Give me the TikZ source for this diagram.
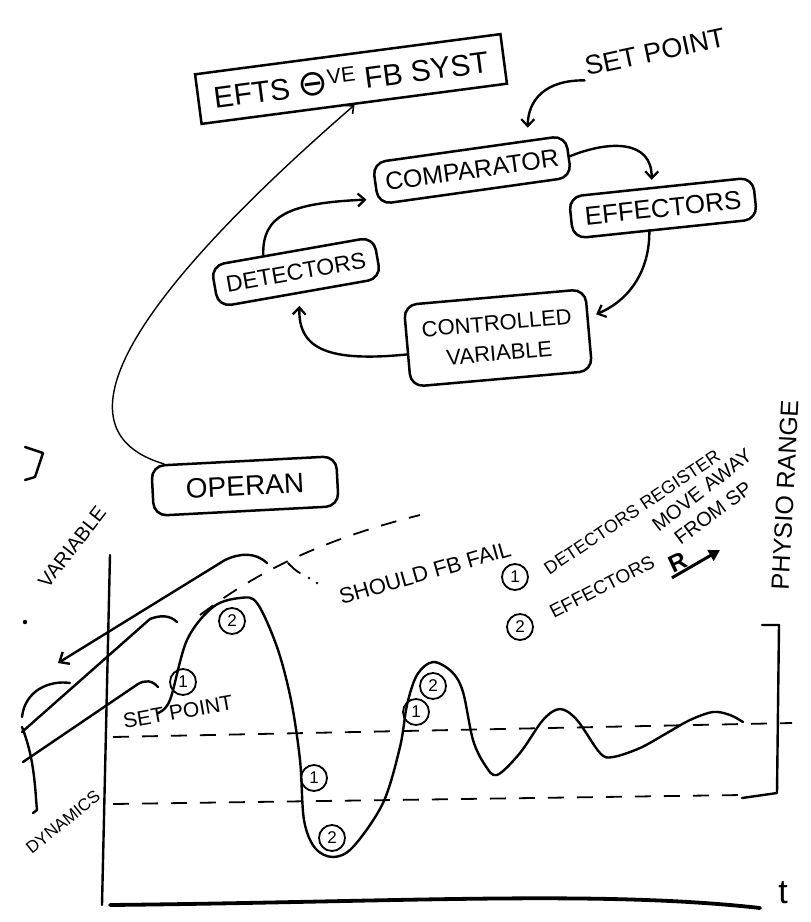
\documentclass[tikz,border=0pt]{standalone}
\usepackage{fontspec}
\setmainfont{Liberation Sans}
\newfontfamily\djv{DejaVu Sans}
\usetikzlibrary{arrows.meta,calc}
\begin{document}
\begin{tikzpicture}[x=1pt,y=-1pt,
  ink/.style={line width=2.4pt, line cap=round, line join=round},
  thin ink/.style={line width=1.4pt, line cap=round},
  box/.style={draw, line width=2.5pt, rounded corners=13pt, inner sep=4pt, minimum height=42pt},
  arr/.style={ink, -{Straight Barb[length=7pt,width=13pt,line width=2.2pt]}},
  num/.style={draw, circle, line width=1.8pt, minimum size=26pt, inner sep=0pt, font=\fontsize{17}{17}\selectfont},
  dsh/.style={line width=1.8pt, dash pattern=on 16pt off 13pt},
  fs/.style={font=\fontsize{#1}{#1}\selectfont}
]
\fill[white] (0,0) rectangle (811,922);
\useasboundingbox (0,0) rectangle (811,922);

% ---------- block diagram ----------
\node[draw, line width=2.5pt, rotate=7.5, minimum width=308pt, minimum height=50pt, fs=30] (title) at (351,79) {EFTS {\djv\fontsize{36}{36}\selectfont ⊖}\textsuperscript{VE} FB SYST};

\node[rotate=12, fs=27] (sp) at (655,52) {SET POINT};

\node[box, rotate=8, minimum width=195pt, fs=25] (comp) at (472,170) {COMPARATOR};
\node[box, rotate=6, minimum width=185pt, fs=26] (eff) at (663,208) {EFFECTORS};
\node[box, rotate=10, minimum width=165pt, fs=23] (det) at (296,272) {DETECTORS};
\node[box, rotate=5, minimum width=182pt, minimum height=82pt, align=center, fs=22] (cv) at (498,338) {CONTROLLED\\[8pt]VARIABLE};
\node[box, rotate=3, minimum width=185pt, minimum height=50pt, fs=28] (op) at (245,486) {OPERAN};

\draw[arr, shorten >=12pt] (sp.south west) .. controls (545,80) and (528,100) .. ($(comp.north)!0.6!(comp.north east)$);
\draw[arr] (comp.east) .. controls (610,140) and (652,140) .. ($(eff.north)+(-9,-6)$);
\draw[arr, shorten >=8pt] ($(eff.south)+(-16,0)$) .. controls (650,270) and (630,300) .. ($(cv.east)!0.3!(cv.north east)$);
\draw[arr, shorten >=12pt] ($(cv.west)!0.2!(cv.south west)$) .. controls (330,362) and (298,350) .. (det.south);
\draw[arr, shorten >=10pt] ($(det.north)!0.35!(det.north west)$) .. controls (262,215) and (290,203) .. ($(comp.west)!0.7!(comp.south west)$);
\draw[thin ink, -{Straight Barb[length=6pt,width=11pt,line width=1.6pt]}] ($(op.north west)!0.15!(op.north)$) .. controls (50,430) and (130,300) .. (title.south);

% stray mark top left
\draw[ink] (25,447) -- (43,453) -- (35,477) -- (25,480);

% ---------- graph ----------
\coordinate (yTop) at (110,555);
\coordinate (yBot) at (102,905);
\coordinate (xEnd) at (760,908);
\draw[ink] (yTop) -- (yBot);
\draw[line width=3.8pt, line cap=round] ($(yBot)+(8,0)$) .. controls (400,902) and (600,890) .. (xEnd);
\node[fs=34] (t) at (783,893) {t};

\draw[dsh] (113,737) -- (792,723);
\draw[dsh] (113,804) -- (742,795);

% physiological range bracket
\draw[ink] (762,625) -- (779,625) -- (777,793) -- (742,798);
\node[rotate=87, fs=25] (phys) at (785,495) {PHYSIO RANGE};

% response curve
\draw[ink] plot[smooth, tension=0.55] coordinates {(158,713) (170,700) (187,640) (213,607) (240,598) (257,603) (277,647) (291,700) (300,760) (304,820) (315,848) (333,857) (353,847) (383,803) (400,747) (407,705) (417,675) (433,662) (452,672) (463,692) (473,740) (485,765) (497,775) (520,753) (543,720) (560,709) (577,720) (600,753) (613,757) (640,748) (667,733) (690,720) (713,712) (730,715) (743,722)};

\node[num] (n1a) at (183,682) {1};
\node[num] (n2a) at (232,621) {2};
\node[num] (n1b) at (314,778) {1};
\node[num] (n2b) at (332,838) {2};
\node[num] (n1c) at (416,712) {1};
\node[num] (n2c) at (433,686) {2};

\node[rotate=10, fs=21] (spg) at (178,712) {SET POINT};

% failure path
\draw[dsh] (200,615) .. controls (240,585) and (300,545) .. (420,515);
\draw[thin ink, line width=1.8pt] (288,563) .. controls (293,568) and (296,571) .. (300,573);
\fill (309,578) circle (1.4pt);
\fill (317,583) circle (1.4pt);
\node[rotate=16, fs=22] (fail) at (425,573) {SHOULD FB FAIL};

% left strokes
\draw[ink, -{Straight Barb[length=8pt,width=14pt,line width=2.4pt]}] (267,563) .. controls (255,552) and (240,553) .. (225,560) -- (58,663);
\draw[ink] (177,622) .. controls (170,615) and (160,615) .. (150,619) -- (22,732);
\draw[ink] (158,687) .. controls (152,680) and (145,680) .. (138,684) -- (23,762);
\draw[ink] (22,717) .. controls (25,690) and (50,680) .. (70,683);
\draw[ink] (22,727) .. controls (35,760) and (35,790) .. (37,810) -- (33,813);
\fill (25,622) circle (2.2pt);

\node[rotate=52, fs=20] (var) at (72,547) {VARIABLE};
\node[rotate=39, fs=17] (dyn) at (63,822) {DYNAMICS};

% legend
\node[num] (l1) at (515,577) {1};
\node[rotate=34, fs=18] (lt1) at (632,512) {DETECTORS REGISTER};
\node[rotate=38, fs=20] (lt2) at (702,490) {MOVE AWAY};
\node[rotate=37, fs=20] (lt3) at (713,513) {FROM SP};
\node[num] (l2) at (520,627) {2};
\node[rotate=27, fs=19] (lt4) at (602,587) {EFFECTORS};
\node[rotate=25, font=\bfseries\fontsize{24}{24}\selectfont] (rr) at (678,562) {R};
\coordinate (rtip) at (720,550);
\draw[line width=3pt, -{Triangle[length=11pt,width=12pt]}] (rr.south west) -- (rtip);
\end{tikzpicture}
\end{document}
